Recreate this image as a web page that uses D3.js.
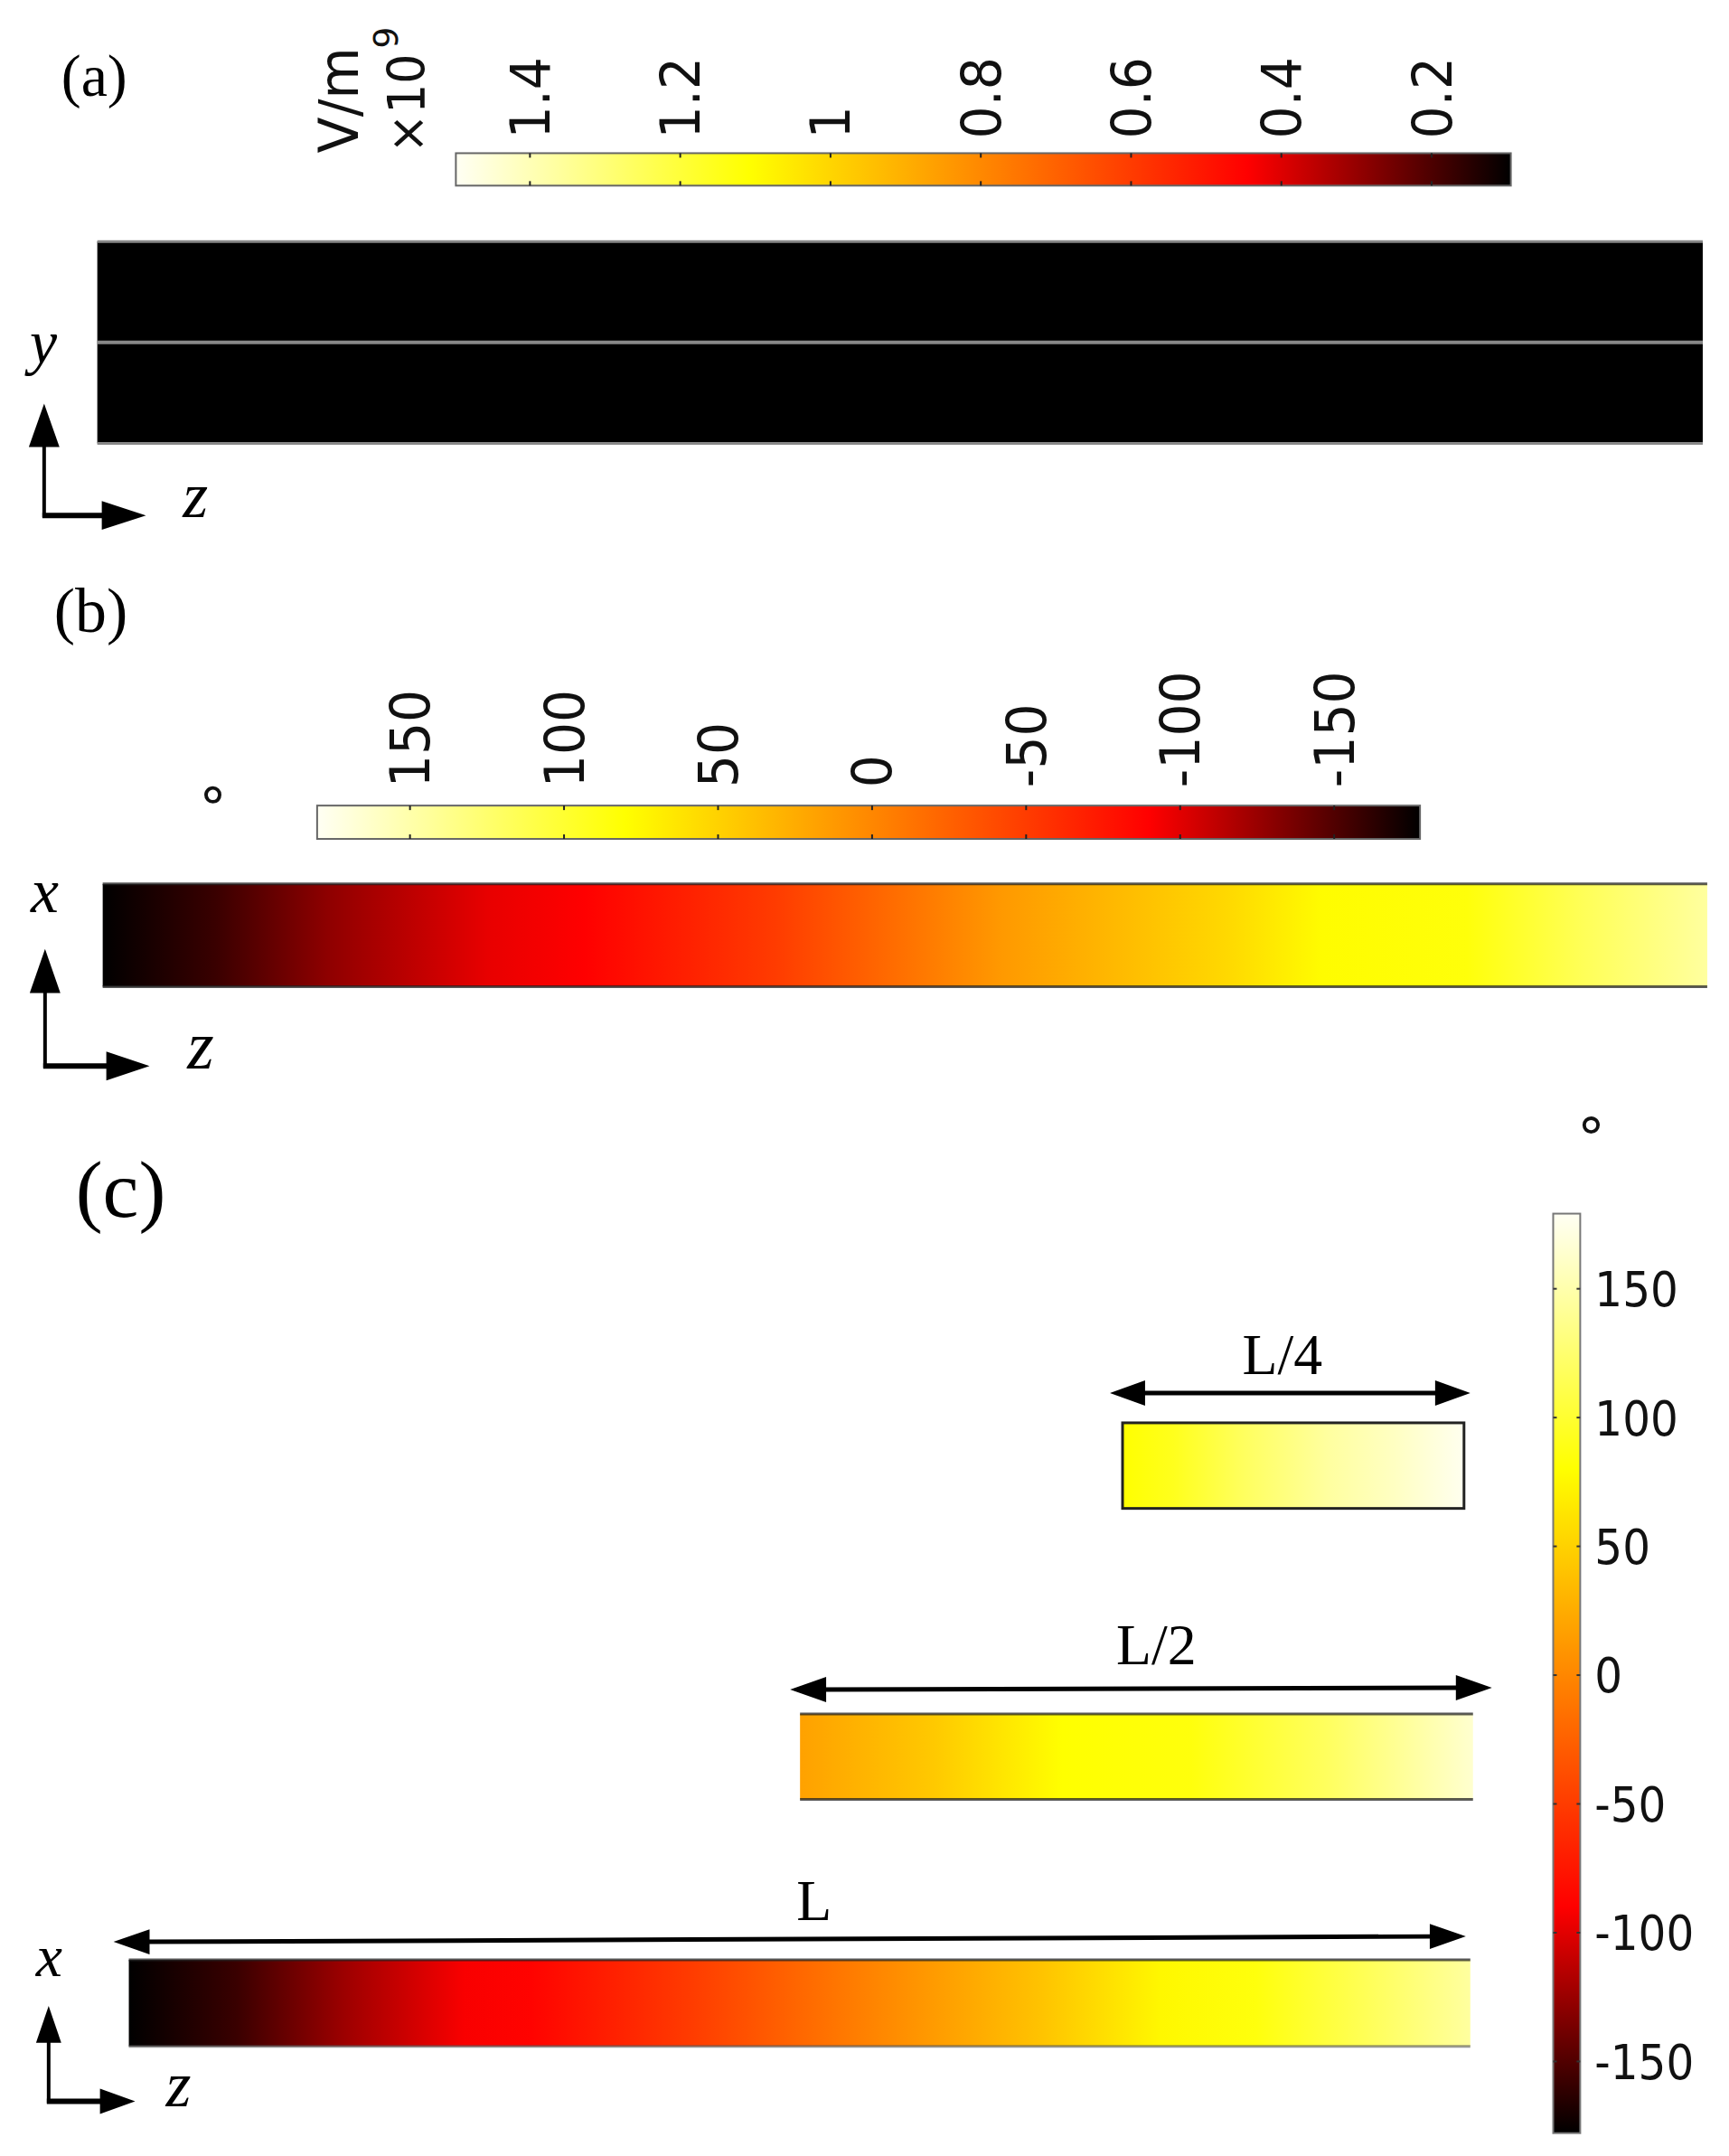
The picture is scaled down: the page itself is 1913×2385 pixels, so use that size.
<!DOCTYPE html>
<html>
<head>
<title>Phase and field maps</title>
<script src="https://d3js.org/d3.v7.min.js"></script>
<style>
	body {margin: 0; background: #fff;}
	svg {display: block;}
	.sans {font-family: "DejaVu Sans", sans-serif;}
	.serif {font-family: "Liberation Serif", serif;}
	.domain {display: none;}
</style>
</head>
<body>
<div id="chart"></div>
<script>
// colour map, read from the legends (degrees -> colour)
var stopValues = [180, 80, -90, -180];
var stopColors = ["#fffff4", "#ffff00", "#ff0000", "#000000"];

// legend ticks
var fieldTicks = [1.4, 1.2, 1, 0.8, 0.6, 0.4, 0.2];
var fieldRange = [1.498, 0.094];
var phaseTicks = [150, 100, 50, 0, -50, -100, -150];
var phaseRange = [180, -180];
// the phase legends stop just short of +-180
var phaseBarB = [180, -178];
var phaseBarC = [179, -178];

// (a) field along z, in 10^9 V/m
var fieldZ = [0, 0.5, 1];
var fieldA = [0.02, 0.02, 0.02];

// (b) phase along z
var phaseZ_b = [0, 0.07, 0.14, 0.24, 0.30, 0.42, 0.56, 0.70, 0.76, 0.85, 0.92, 1];
var phase_b = [-180, -160, -130, -98, -90, -50, 12, 54, 78, 84, 115, 145];

// (c) phase along z for the three lengths
var phaseZ_L = [0, 0.08, 0.16, 0.25, 0.30, 0.42, 0.56, 0.68, 0.77, 0.84, 0.92, 1];
var phase_L = [-180, -160, -125, -92, -88, -50, 0, 40, 75, 85, 115, 145];
var phaseZ_L2 = [0, 0.2, 0.39, 0.58, 0.78, 1];
var phase_L2 = [17, 44, 80, 85, 118, 165];
var phaseZ_L4 = [0, 0.15, 0.35, 0.6, 0.8, 1];
var phase_L4 = [80, 92, 118, 145, 160, 178];

var width = 1913, height = 2385;
var root = d3.select("#chart").append("svg")
	.attr("width", width)
	.attr("height", height);
var defs = root.append("defs");
// layout numbers below were measured slightly large, scale them back to the picture
var svg = root.append("g").attr("transform", "scale(0.9968)");

var phaseColor = d3.scaleLinear().domain(stopValues).range(stopColors).clamp(true);
// same colours on the field legend
var fieldToPhase = d3.scaleLinear().domain(fieldRange).range(phaseRange).clamp(true);

var gradCount = 0;
function addGradient(offsets, colors, vertical) {
	var id = "grad" + (gradCount++);
	var g = defs.append("linearGradient").attr("id", id)
		.attr("x1", 0).attr("y1", 0)
		.attr("x2", vertical ? 0 : 1).attr("y2", vertical ? 1 : 0);
	offsets.forEach(function(o, i) {
		g.append("stop").attr("offset", o).attr("stop-color", colors[i]);
	});
	return "url(#" + id + ")";
}

// a colour strip along z, from z positions and phases
function strip(x0, x1, y0, y1, zs, values, toColor) {
	var xScale = d3.scaleLinear().domain([0, 1]).range([x0, x1]);
	var fill = addGradient(zs.map(function(z) { return (xScale(z) - x0) / (x1 - x0); }),
		values.map(toColor), false);
	svg.append("rect")
		.attr("x", xScale(0))
		.attr("y", y0)
		.attr("width", xScale(1) - xScale(0))
		.attr("height", y1 - y0)
		.style("fill", fill);
}

function edges(x0, x1, y0, y1, top, bottom) {
	svg.append("line").attr("x1", x0).attr("x2", x1).attr("y1", y0).attr("y2", y0)
		.style("stroke", top.color).style("stroke-width", top.w).style("stroke-opacity", top.o);
	svg.append("line").attr("x1", x0).attr("x2", x1).attr("y1", y1).attr("y2", y1)
		.style("stroke", bottom.color).style("stroke-width", bottom.w).style("stroke-opacity", bottom.o);
}

// horizontal legend with labels turned upright above the bar
function hLegend(scale, ticks, ends, y0, y1, stops, toColor, labelGap) {
	var x0 = scale(ends[0]), x1 = scale(ends[1]);
	var offs = stops.map(function(v) { return (scale(v) - x0) / (x1 - x0); });
	svg.append("rect")
		.attr("x", x0).attr("y", y0)
		.attr("width", x1 - x0).attr("height", y1 - y0)
		.style("fill", addGradient(offs, stops.map(toColor), false))
		.style("stroke", "#666").style("stroke-width", 2);

	svg.append("g").attr("transform", "translate(0," + y0 + ")")
		.call(d3.axisBottom(scale).tickValues(ticks).tickSize(5).tickFormat(""))
		.selectAll("line").style("stroke", "#222").style("stroke-width", 2);
	svg.append("g").attr("transform", "translate(0," + y1 + ")")
		.call(d3.axisTop(scale).tickValues(ticks).tickSize(5).tickFormat(""))
		.selectAll("line").style("stroke", "#222").style("stroke-width", 2);

	var labels = svg.append("g").attr("transform", "translate(0," + y0 + ")")
		.call(d3.axisTop(scale).tickValues(ticks).tickSize(0).tickFormat(String));
	labels.attr("font-size", null).attr("font-family", null).attr("text-anchor", null);
	labels.selectAll("text")
		.attr("class", "sans")
		.attr("x", 0).attr("y", 0).attr("dy", "0.36em")
		.attr("transform", "translate(0," + (-labelGap) + ") rotate(-90) scale(0.95,1)")
		.style("text-anchor", "start")
		.style("font-size", "60px")
		.style("fill", "#111");
}

function arrowHead(tipX, tipY, dir, len, half) {
	// dir: [1,0] right, [-1,0] left, [0,-1] up
	var bx = tipX - dir[0] * len, by = tipY - dir[1] * len;
	var px = -dir[1] * half, py = dir[0] * half;
	svg.append("path")
		.attr("d", d3.line()([[tipX, tipY], [bx + px, by + py], [bx - px, by - py]]) + "Z")
		.style("fill", "#000");
}

function axisArrows(cx, cy, top, tip, vLen, vHalf, hLen, hHalf) {
	svg.append("line").attr("x1", cx).attr("x2", cx).attr("y1", cy + 2).attr("y2", top + vLen - 2)
		.style("stroke", "#000").style("stroke-width", 4);
	svg.append("line").attr("x1", cx - 2).attr("x2", tip - hLen + 2).attr("y1", cy).attr("y2", cy)
		.style("stroke", "#000").style("stroke-width", 6);
	arrowHead(cx, top, [0, -1], vLen, vHalf);
	arrowHead(tip, cy, [1, 0], hLen, hHalf);
}

function doubleArrow(x0, y0, x1, y1, len, half) {
	svg.append("line").attr("x1", x0 + len - 2).attr("x2", x1 - len + 2).attr("y1", y0).attr("y2", y1)
		.style("stroke", "#000").style("stroke-width", 5);
	arrowHead(x0, y0, [-1, 0], len, half);
	arrowHead(x1, y1, [1, 0], len, half);
}

function serifText(str, x, y, size, italic) {
	svg.append("text").attr("class", "serif")
		.attr("x", x).attr("y", y)
		.style("font-size", size + "px")
		.style("font-style", italic ? "italic" : "normal")
		.style("fill", "#000")
		.text(str);
}

function degree(x, y, rotate) {
	svg.append("text").attr("class", "sans")
		.attr("transform", "translate(" + x + "," + y + ")" + (rotate ? " rotate(-90)" : ""))
		.attr("dy", "0.58em")
		.style("text-anchor", "middle")
		.style("font-size", "62px")
		.style("fill", "#111")
		.text("°");
}

// ---------- panel (a)
var fieldLegendScale = d3.scaleLinear().domain(fieldRange).range([506, 1677]);
hLegend(fieldLegendScale, fieldTicks, fieldRange, 170, 206,
	stopValues.map(function(v) { return fieldToPhase.invert(v); }),
	function(v) { return phaseColor(fieldToPhase(v)); }, 16);

svg.append("text").attr("class", "sans")
	.attr("transform", "translate(397,170) rotate(-90) scale(0.98,1)")
	.style("font-size", "60px").style("fill", "#111")
	.text("V/m");
svg.append("text").attr("class", "sans")
	.attr("transform", "translate(472,170) rotate(-90) scale(0.9,1)")
	.style("font-size", "58px").style("fill", "#111")
	.text("×10");
svg.append("text").attr("class", "sans")
	.attr("transform", "translate(441,54) rotate(-90)")
	.style("font-size", "38px").style("fill", "#111")
	.text("9");

serifText("(a)", 68, 106, 66, false);
strip(108, 1890, 268, 492, fieldZ, fieldA, function(v) { return phaseColor(fieldToPhase(v)); });
edges(108, 1890, 268, 492, {color: "#888", w: 3, o: 1}, {color: "#888", w: 3, o: 1});
svg.append("line").attr("x1", 108).attr("x2", 1890).attr("y1", 380).attr("y2", 380)
	.style("stroke", "#888").style("stroke-width", 4);
serifText("y", 33, 403, 68, true);
axisArrows(49, 572, 448, 162, 48, 17, 49, 16);
serifText("z", 203, 574, 72, true);

// ---------- panel (b)
serifText("(b)", 60, 701, 70, false);
var phaseLegendScale = d3.scaleLinear().domain(phaseRange).range([352, 1583]);
hLegend(phaseLegendScale, phaseTicks, phaseBarB, 894, 931, stopValues, phaseColor, 20);
degree(237, 882, true);

strip(114, 1895, 981, 1095, phaseZ_b, phase_b, phaseColor);
edges(114, 1895, 981, 1095, {color: "#222", w: 3, o: 0.75}, {color: "#222", w: 3, o: 0.75});
serifText("x", 34, 1012, 70, true);
axisArrows(50, 1183, 1053, 166, 49, 17, 48, 16);
serifText("z", 208, 1186, 76, true);

// ---------- panel (c)
serifText("(c)", 84, 1350, 90, false);

var vScale = d3.scaleLinear().domain(phaseRange).range([1344, 2373]);
svg.append("rect")
	.attr("x", 1724).attr("y", vScale(phaseBarC[0]))
	.attr("width", 30).attr("height", vScale(phaseBarC[1]) - vScale(phaseBarC[0]))
	.style("fill", addGradient(stopValues.map(function(v) {
		return (vScale(v) - vScale(phaseBarC[0])) / (vScale(phaseBarC[1]) - vScale(phaseBarC[0]));
	}), stopColors, true))
	.style("stroke", "#777").style("stroke-width", 2);
svg.append("g").attr("transform", "translate(1724,0)")
	.call(d3.axisRight(vScale).tickValues(phaseTicks).tickSize(4).tickFormat(""))
	.selectAll("line").style("stroke", "#333").style("stroke-width", 2);
svg.append("g").attr("transform", "translate(1754,0)")
	.call(d3.axisLeft(vScale).tickValues(phaseTicks).tickSize(4).tickFormat(""))
	.selectAll("line").style("stroke", "#333").style("stroke-width", 2);
var vLabels = svg.append("g").attr("transform", "translate(1770,0)")
	.call(d3.axisRight(vScale).tickValues(phaseTicks).tickSize(0).tickFormat(String));
vLabels.attr("font-size", null).attr("font-family", null).attr("text-anchor", null);
vLabels.selectAll("text")
	.attr("class", "sans")
	.attr("x", 0).attr("y", 0).attr("dy", "0.36em")
	.attr("transform", "scale(0.9,1)")
	.style("text-anchor", "start")
	.style("font-size", "54px")
	.style("fill", "#111");
degree(1766, 1249, false);

strip(1246, 1625, 1579, 1674, phaseZ_L4, phase_L4, phaseColor);
svg.append("rect").attr("x", 1246).attr("y", 1579).attr("width", 379).attr("height", 95)
	.style("fill", "none").style("stroke", "#222").style("stroke-width", 3);
doubleArrow(1232, 1546, 1632, 1546, 39, 14);
serifText("L/4", 1379, 1525, 64, false);

strip(888, 1635, 1902, 1997, phaseZ_L2, phase_L2, phaseColor);
edges(888, 1635, 1902, 1997, {color: "#222", w: 3, o: 0.75}, {color: "#222", w: 3, o: 0.75});
doubleArrow(877, 1875, 1656, 1873, 40, 14);
serifText("L/2", 1239, 1847, 64, false);

strip(143, 1632, 2175, 2271, phaseZ_L, phase_L, phaseColor);
edges(143, 1632, 2175, 2271, {color: "#222", w: 3, o: 0.75}, {color: "#555", w: 3, o: 0.6});
doubleArrow(126, 2155, 1627, 2149, 40, 14);
serifText("L", 884, 2131, 64, false);

serifText("x", 40, 2193, 66, true);
axisArrows(54, 2332, 2226, 150, 41, 14, 39, 14);
serifText("z", 184, 2337, 72, true);
</script>
</body>
</html>
